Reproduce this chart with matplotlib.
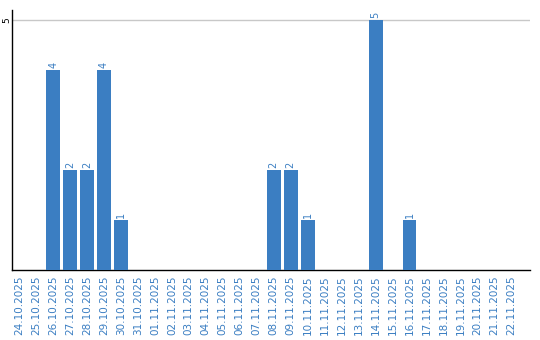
import matplotlib
matplotlib.use("Agg")
import matplotlib.pyplot as plt

dates = ["24.10.2025", "25.10.2025", "26.10.2025", "27.10.2025", "28.10.2025",
         "29.10.2025", "30.10.2025", "31.10.2025", "01.11.2025", "02.11.2025",
         "03.11.2025", "04.11.2025", "05.11.2025", "06.11.2025", "07.11.2025",
         "08.11.2025", "09.11.2025", "10.11.2025", "11.11.2025", "12.11.2025",
         "13.11.2025", "14.11.2025", "15.11.2025", "16.11.2025", "17.11.2025",
         "18.11.2025", "19.11.2025", "20.11.2025", "21.11.2025", "22.11.2025"]
counts = [0, 0, 4, 2, 2, 4, 1, 0, 0, 0,
          0, 0, 0, 0, 0, 2, 2, 1, 0, 0,
          0, 5, 0, 1, 0, 0, 0, 0, 0, 0]

BLUE = "#3b7ec2"

fig = plt.figure(figsize=(5.4, 3.4), dpi=100)
ax = fig.add_axes([12 / 540, 70 / 340, 518 / 540, 260 / 340])

x = list(range(len(dates)))
ax.bar(x, counts, width=0.82, color=BLUE, zorder=3)
for xi, c in zip(x, counts):
    if c > 0:
        ax.text(xi, c + 0.04, str(c), rotation=90, ha="center", va="bottom",
                fontsize=7, color=BLUE, zorder=4)

ax.set_xlim(-0.42, 30.1)
ax.set_ylim(0, 5.2)
ax.set_yticks([5])
ax.set_yticklabels(["5"], rotation=90, va="center", fontsize=6.5)
ax.yaxis.grid(True, color="#c8c8c8", lw=1, zorder=0)
ax.set_xticks(x)
ax.set_xticklabels(dates, rotation=90, fontsize=7.5, color=BLUE)
ax.tick_params(axis="x", length=0, pad=4)
ax.tick_params(axis="y", length=0, pad=0.5)
for s in ("top", "right"):
    ax.spines[s].set_visible(False)
for s in ("left", "bottom"):
    ax.spines[s].set_color("black")
    ax.spines[s].set_linewidth(1)

fig.savefig("out.png", dpi=100, facecolor="white")
